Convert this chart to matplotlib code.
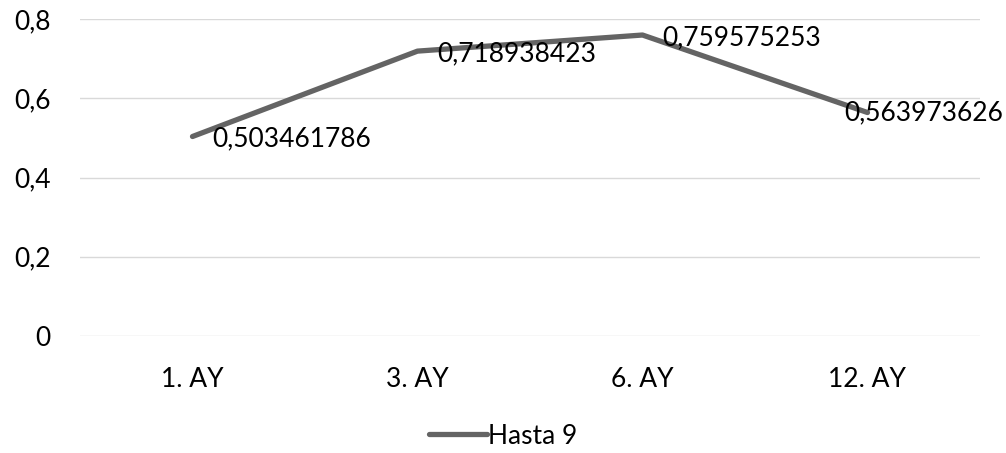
import matplotlib
matplotlib.use('Agg')
import matplotlib.pyplot as plt
from matplotlib.transforms import blended_transform_factory

categorias = ['1. AY', '3. AY', '6. AY', '12. AY']
valores = [0.503461786, 0.718938423, 0.759575253, 0.563973626]
etiquetas = ['0,503461786', '0,718938423', '0,759575253', '0,563973626']
ticks_y = [0, 0.2, 0.4, 0.6, 0.8]
ticks_y_txt = ['0', '0,2', '0,4', '0,6', '0,8']
serie = 'Hasta 9'

plt.rcParams['font.family'] = ['Lato', 'DejaVu Sans']
cor = '#646464'
tam = 19

fig = plt.figure(figsize=(10.06, 4.53), dpi=100)
ax = fig.add_axes([80 / 1006, 1 - 336 / 453, 900 / 1006, 317 / 453])

x = list(range(len(categorias)))
ax.plot(x, valores, color=cor, linewidth=3.8, solid_capstyle='round',
        solid_joinstyle='round', label=serie, zorder=3)

# rótulos à direita do ponto; o último é empurrado para dentro da figura
trans = blended_transform_factory(fig.transFigure, ax.transData)
for xi, v, t in zip(x, valores, etiquetas):
    if xi == x[-1]:
        ax.text(1003 / 1006, v, t, transform=trans, ha='right', va='center',
                fontsize=tam, color='#000000', zorder=4)
    else:
        ax.annotate(t, (xi, v), xytext=(14, -2), textcoords='offset points',
                    ha='left', va='center', fontsize=tam, color='#000000',
                    zorder=4)

ax.set_xlim(-0.5, 3.5)
ax.set_ylim(0, 0.8)
ax.set_xticks(x)
ax.set_xticklabels(categorias, fontsize=tam)
ax.set_yticks(ticks_y)
ax.set_yticklabels(ticks_y_txt, fontsize=tam)
ax.tick_params(length=0, pad=22, axis='x')
ax.tick_params(length=0, pad=21, axis='y')
ax.grid(axis='y', color='#d9d9d9', linewidth=1)
ax.set_axisbelow(True)
for s in ax.spines.values():
    s.set_visible(False)

fig.legend(loc='center', bbox_to_anchor=(0.5, 1 - 436 / 453), frameon=False,
           fontsize=tam, handlelength=2.2, handletextpad=0.05)

fig.savefig('out.png', dpi=100)
